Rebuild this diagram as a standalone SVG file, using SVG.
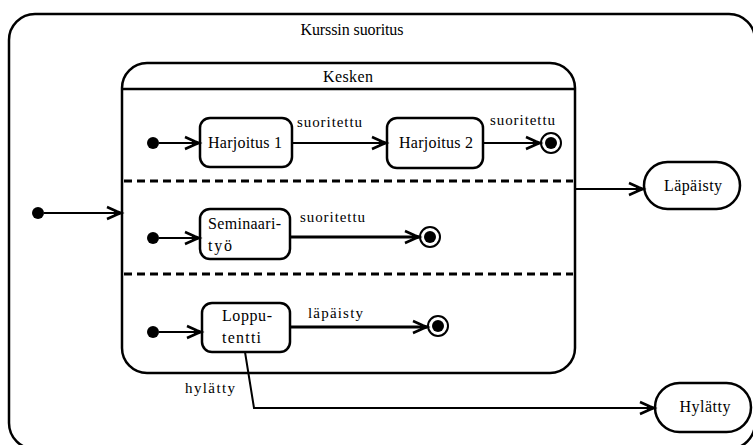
<svg xmlns="http://www.w3.org/2000/svg" width="753" height="445" viewBox="0 0 753 445">
  <style>
    .frame { fill: none; stroke: #000; stroke-width: 2.5; }
    .state { fill: #fff; stroke: #000; stroke-width: 2.5; }
    .edge { fill: none; stroke: #000; stroke-width: 2; }
    .edge.thick { stroke-width: 3; }
    .sep { stroke: #000; stroke-width: 3; stroke-dasharray: 8 5; }
    .dot { fill: #000; }
    .ring { fill: #fff; stroke: #000; stroke-width: 2; }
    text { font-family: "Liberation Serif", "Times New Roman", serif; font-size: 16px; fill: #000; }
    .mid { text-anchor: middle; }
    .lbl { font-size: 15px; }
  </style>
  <defs>
    <marker id="arrow" markerUnits="userSpaceOnUse" viewBox="-16 -8 18 16" refX="0" refY="0" markerWidth="18" markerHeight="16" orient="auto" overflow="visible">
      <path d="M-14,-6 L-4,-1.5 L0,0 L-4,1.5 L-14,6" fill="none" stroke="#000" stroke-width="2.5" stroke-linejoin="miter"/>
      <path d="M-7,-2.2 L0,0 L-7,2.2 Z" fill="#000"/>
    </marker>
  </defs>

  <!-- composite state: Kurssin suoritus -->
  <g id="kurssin-suoritus">
    <rect class="frame" x="9" y="14" width="746" height="435" rx="26"/>
    <text class="mid" x="352" y="35" textLength="103">Kurssin suoritus</text>
  </g>

  <!-- composite state: Kesken with three concurrent regions -->
  <g id="kesken">
    <rect class="frame" x="122" y="63" width="453" height="310" rx="25"/>
    <line x1="122" y1="89" x2="575" y2="89" stroke="#000" stroke-width="2.5"/>
    <text class="mid" x="348" y="82" textLength="50">Kesken</text>
    <line class="sep" x1="124" y1="181" x2="573" y2="181"/>
    <line class="sep" x1="124" y1="274" x2="573" y2="274"/>
  </g>

  <!-- initial pseudostates -->
  <g id="init-outer"><circle class="dot" cx="38" cy="213" r="6"/></g>
  <g id="init-1"><circle class="dot" cx="153" cy="143" r="6"/></g>
  <g id="init-2"><circle class="dot" cx="153" cy="238" r="6"/></g>
  <g id="init-3"><circle class="dot" cx="153" cy="332" r="6"/></g>

  <!-- simple states -->
  <g id="harjoitus-1">
    <rect class="state" x="200" y="118" width="92" height="49" rx="10"/>
    <text x="208" y="148" textLength="74">Harjoitus 1</text>
  </g>
  <g id="harjoitus-2">
    <rect class="state" x="387" y="118" width="96" height="50" rx="10"/>
    <text x="399" y="148" textLength="74">Harjoitus 2</text>
  </g>
  <g id="seminaarityo">
    <rect class="state" x="200" y="209" width="90" height="50" rx="10"/>
    <text x="208" y="229" textLength="73">Seminaari-</text>
    <text x="208" y="251" textLength="24">työ</text>
  </g>
  <g id="lopputentti">
    <rect class="state" x="202" y="303" width="88" height="49" rx="10"/>
    <text x="222" y="321" textLength="50">Loppu-</text>
    <text x="222" y="343" textLength="39">tentti</text>
  </g>
  <g id="lapaisty">
    <rect class="state" x="644" y="162" width="96" height="47" rx="23.5"/>
    <text class="mid" x="693" y="191" textLength="58">Läpäisty</text>
  </g>
  <g id="hylatty">
    <rect class="state" x="655" y="383" width="96" height="49" rx="24.5"/>
    <text class="mid" x="705" y="412" textLength="51">Hylätty</text>
  </g>

  <!-- final states -->
  <g id="final-1">
    <circle class="ring" cx="551" cy="143" r="10"/>
    <circle class="dot" cx="551" cy="143" r="6"/>
  </g>
  <g id="final-2">
    <circle class="ring" cx="430" cy="237" r="10"/>
    <circle class="dot" cx="430" cy="237" r="6"/>
  </g>
  <g id="final-3">
    <circle class="ring" cx="438" cy="326" r="10"/>
    <circle class="dot" cx="438" cy="326" r="6"/>
  </g>

  <!-- transitions -->
  <g id="connectors">
    <line class="edge" x1="44" y1="213" x2="121" y2="213" marker-end="url(#arrow)"/>
    <line class="edge" x1="159" y1="143" x2="199" y2="143" marker-end="url(#arrow)"/>
    <line class="edge" x1="292" y1="143" x2="386" y2="143" marker-end="url(#arrow)"/>
    <line class="edge" x1="483" y1="143" x2="540" y2="143" marker-end="url(#arrow)"/>
    <line class="edge" x1="159" y1="238" x2="199" y2="238" marker-end="url(#arrow)"/>
    <line class="edge thick" x1="290" y1="237" x2="419" y2="237" marker-end="url(#arrow)"/>
    <line class="edge" x1="159" y1="332" x2="201" y2="332" marker-end="url(#arrow)"/>
    <line class="edge thick" x1="290" y1="327" x2="427" y2="327" marker-end="url(#arrow)"/>
    <line class="edge" x1="576" y1="189" x2="643" y2="189" marker-end="url(#arrow)"/>
    <polyline class="edge" points="245,352 254,408 654,408" marker-end="url(#arrow)"/>

    <text class="lbl" x="297" y="127" textLength="65">suoritettu</text>
    <text class="lbl" x="490" y="125" textLength="65">suoritettu</text>
    <text class="lbl" x="300" y="222" textLength="65">suoritettu</text>
    <text class="lbl" x="308" y="318" textLength="55">läpäisty</text>
    <text class="lbl" x="185" y="393" textLength="50">hylätty</text>
  </g>
</svg>
